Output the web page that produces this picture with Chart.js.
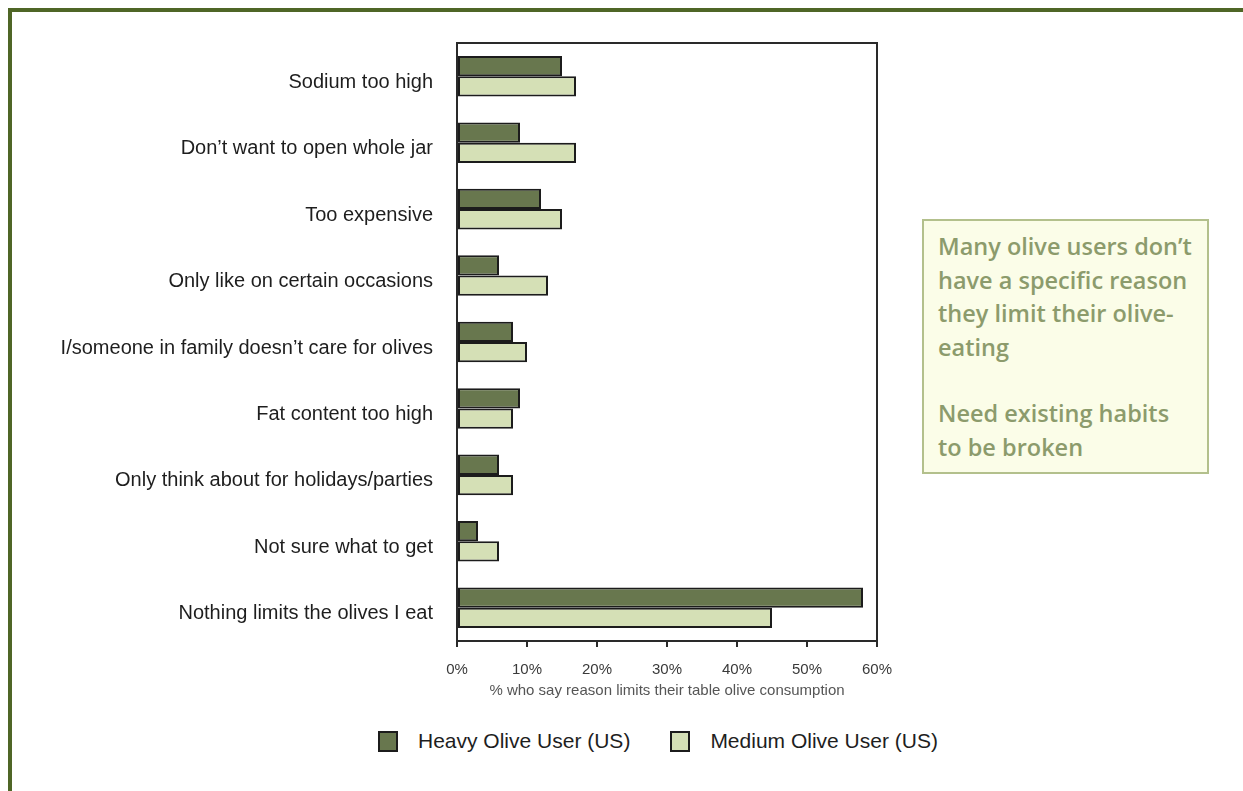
<!DOCTYPE html>
<html>
<head>
<meta charset="utf-8">
<script src="https://cdn.jsdelivr.net/npm/chart.js@4.4.1/dist/chart.umd.min.js"></script>
<style>
  html, body { margin: 0; padding: 0; background: #fff; overflow: hidden; }
  #frame {
    position: absolute; left: 8px; top: 8px; width: 1300px; height: 900px;
    border-top: 4px solid #4f6626; border-left: 4px solid #4f6626;
  }
  #wrap { position: absolute; left: 0; top: 0; width: 910px; height: 701px; }
  #note {
    position: absolute; left: 922px; top: 219px; width: 287px; height: 255px;
    box-sizing: border-box; border: 2px solid #b3c08c; background: #fbfde8;
    padding: 9px 0 0 14px; color: #8c9b6c; white-space: nowrap;
    font-family: "Open Sans", sans-serif; font-weight: 600; font-size: 23.5px; line-height: 33.5px;
  }
  #note p { margin: 0 0 33px 0; }
  #legend {
    position: absolute; left: 378px; top: 729px; display: flex; align-items: center;
    font-family: "Liberation Sans", sans-serif; font-size: 21px; color: #1e1e1e;
  }
  #legend .item { display: flex; align-items: center; margin-right: 40px; }
  #legend .box { width: 16px; height: 17px; border: 2px solid #1c1c1c; margin-right: 20px; }
</style>
</head>
<body>
<div id="frame"></div>
<div id="wrap"><canvas id="myChart"></canvas></div>
<div id="note">
  <p>Many olive users don’t<br>have a specific reason<br>they limit their olive-<br>eating</p>
  <p>Need existing habits<br>to be broken</p>
</div>
<div id="legend"></div>
<script>
var categories = [
  "Sodium too high",
  "Don’t want to open whole jar",
  "Too expensive",
  "Only like on certain occasions",
  "I/someone in family doesn’t care for olives",
  "Fat content too high",
  "Only think about for holidays/parties",
  "Not sure what to get",
  "Nothing limits the olives I eat"
];
var heavyUser = [15, 9, 12, 6, 8, 9, 6, 3, 58];
var mediumUser = [17, 17, 15, 13, 10, 8, 8, 6, 45];
var seriesNames = ["Heavy Olive User (US)", "Medium Olive User (US)"];
var xTicks = [0, 10, 20, 30, 40, 50, 60];
var xTitle = "% who say reason limits their table olive consumption";

var fillColors = ["#68774e", "#d5e0b6"];

// top and right side of the plot box
var boxPlugin = {
  id: "plotBox",
  afterDraw: function (chart) {
    var a = chart.chartArea, ctx = chart.ctx;
    ctx.save();
    ctx.strokeStyle = "#2a2a2a";
    ctx.lineWidth = 2;
    ctx.beginPath();
    ctx.moveTo(a.left, a.top);
    ctx.lineTo(a.right, a.top);
    ctx.lineTo(a.right, a.bottom);
    ctx.stroke();
    ctx.restore();
  }
};

var ctx = document.getElementById("myChart").getContext("2d");
var myChart = new Chart(ctx, {
  type: "bar",
  data: {
    labels: categories,
    datasets: [
      {
        label: seriesNames[0],
        data: heavyUser,
        backgroundColor: fillColors[0],
        borderColor: "#1c1c1c",
        borderWidth: 2,
        borderSkipped: false
      },
      {
        label: seriesNames[1],
        data: mediumUser,
        backgroundColor: fillColors[1],
        borderColor: "#1c1c1c",
        borderWidth: 2,
        borderSkipped: false
      }
    ]
  },
  options: {
    indexAxis: "y",
    responsive: true,
    maintainAspectRatio: false,
    animation: false,
    layout: { padding: { top: 43, right: 33, left: 0, bottom: 0 } },
    plugins: {
      legend: { display: false },
      tooltip: { enabled: false }
    },
    datasets: { bar: { categoryPercentage: 0.61, barPercentage: 1.0 } },
    scales: {
      x: {
        min: 0,
        max: 60,
        afterBuildTicks: function (scale) {
          scale.ticks = xTicks.map(function (v) { return { value: v }; });
        },
        afterFit: function (scale) { scale.height = 60; },
        grid: { drawOnChartArea: false, drawTicks: true, tickLength: 6, color: "#2a2a2a", lineWidth: 2 },
        border: { display: true, color: "#2a2a2a", width: 2 },
        ticks: {
          padding: 14,
          color: "#3a3a3a",
          font: { family: "Liberation Sans", size: 15 },
          callback: function (v) { return v + "%"; }
        },
        title: {
          display: true,
          text: xTitle,
          color: "#555",
          font: { family: "Liberation Sans", size: 15 },
          padding: { top: 0, bottom: 1 }
        }
      },
      y: {
        afterFit: function (scale) { scale.width = 457; },
        grid: { display: false, drawTicks: false },
        border: { display: true, color: "#2a2a2a", width: 2 },
        ticks: {
          padding: 24,
          labelOffset: 6,
          color: "#1e1e1e",
          font: { family: "Liberation Sans", size: 20 }
        }
      }
    }
  },
  plugins: [boxPlugin]
});

// legend built from the datasets
var legendEl = document.getElementById("legend");
myChart.data.datasets.forEach(function (ds) {
  var item = document.createElement("div");
  item.className = "item";
  var box = document.createElement("div");
  box.className = "box";
  box.style.background = ds.backgroundColor;
  var txt = document.createElement("span");
  txt.textContent = ds.label;
  item.appendChild(box);
  item.appendChild(txt);
  legendEl.appendChild(item);
});
</script>
</body>
</html>
